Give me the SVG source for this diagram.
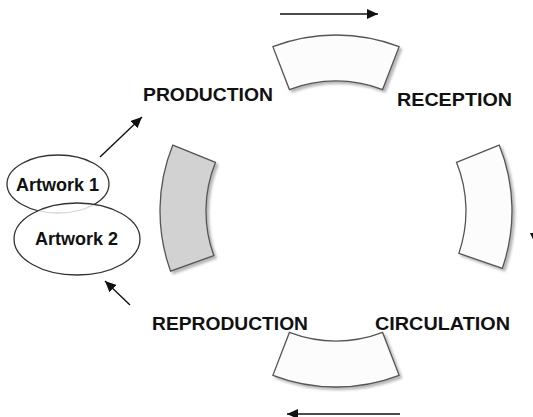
<svg xmlns="http://www.w3.org/2000/svg" width="533" height="417" viewBox="0 0 533 417">
<style>
.seg{stroke:#555;stroke-width:1.3;filter:url(#sh)}
.w{fill:#fcfcfc}
.g{fill:#d2d2d2}
.lbl{font-family:"Liberation Sans",Arial,sans-serif;font-weight:bold;font-size:19px;fill:#111}
.art{font-family:"Liberation Sans",Arial,sans-serif;font-weight:bold;font-size:18px;fill:#111;text-anchor:middle}
.ell{stroke:#333;stroke-width:1.3}
.arr{stroke:#111;stroke-width:1.4;fill:none;marker-end:url(#ah)}
</style>
<defs>
<filter id="sh" x="-20%" y="-20%" width="140%" height="140%">
<feDropShadow dx="2.5" dy="2.5" stdDeviation="1.2" flood-color="#888" flood-opacity="0.6"/>
</filter>
<marker id="ah" markerWidth="11" markerHeight="10" refX="11" refY="5" orient="auto" markerUnits="userSpaceOnUse">
<path d="M0,0 L11,5 L0,10 z" fill="#111"/>
</marker>
</defs>
<g id="seg-top"><path class="seg w" d="M272.9,46.7 A176,176 0 0 1 399.1,46.7 L382.6,89.6 A130,130 0 0 0 289.4,89.6 Z"/></g>
<g id="seg-right"><path class="seg w" d="M499.2,145.1 A176,176 0 0 1 502.4,268.3 L458.9,253.3 A130,130 0 0 0 456.5,162.3 Z"/></g>
<g id="seg-bottom"><path class="seg w" d="M399.1,375.3 A176,176 0 0 1 272.9,375.3 L289.4,332.4 A130,130 0 0 0 382.6,332.4 Z"/></g>
<g id="seg-left"><path class="seg g" d="M170.6,271.2 A176,176 0 0 1 172.8,145.1 L215.5,162.3 A130,130 0 0 0 213.8,255.5 Z"/></g>
<g id="production"><text class="lbl" x="143" y="101" textLength="130" lengthAdjust="spacingAndGlyphs">PRODUCTION</text></g>
<g id="reception"><text class="lbl" x="397" y="106" textLength="115" lengthAdjust="spacingAndGlyphs">RECEPTION</text></g>
<g id="reproduction"><text class="lbl" x="152" y="330" textLength="156" lengthAdjust="spacingAndGlyphs">REPRODUCTION</text></g>
<g id="circulation"><text class="lbl" x="375" y="330" textLength="135" lengthAdjust="spacingAndGlyphs">CIRCULATION</text></g>
<g id="artwork1"><ellipse class="ell" cx="58" cy="184" rx="51" ry="29" fill="#fff"/><text class="art" x="57.5" y="191">Artwork 1</text></g>
<g id="artwork2"><ellipse class="ell" cx="77" cy="239" rx="63" ry="36" fill="#fff" fill-opacity="0.8"/><text class="art" x="76.5" y="245">Artwork 2</text></g>
<g id="connectors">
<line class="arr" x1="535" y1="140" x2="535" y2="244"/>
<line class="arr" x1="100" y1="157" x2="142" y2="117"/>
<line class="arr" x1="130" y1="305" x2="105" y2="281"/>
<line class="arr" x1="280" y1="14" x2="378" y2="14"/>
<line class="arr" x1="400" y1="414" x2="287" y2="414"/>
</g>
</svg>
